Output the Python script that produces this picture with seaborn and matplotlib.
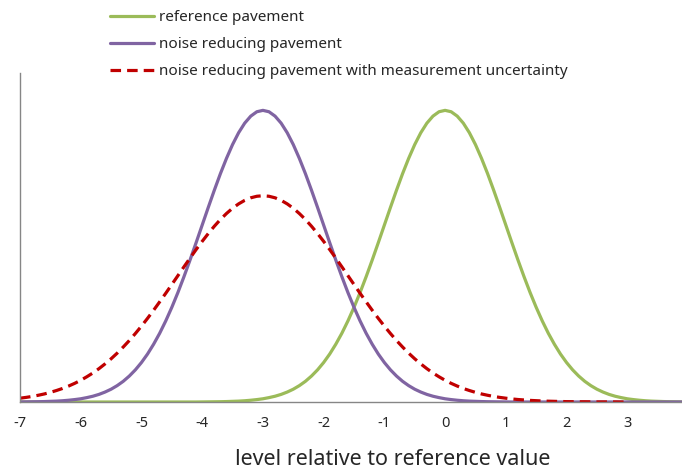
import matplotlib
matplotlib.use("Agg")
import matplotlib.pyplot as plt
import pandas as pd
import seaborn as sns

# x positions (level relative to reference value), step 0.1
x_full = [round(-7 + 0.1 * i, 1) for i in range(111)]   # -7 .. 4
x_red = [round(-7 + 0.1 * i, 1) for i in range(101)]    # -7 .. 3

# reference pavement (peak at 0)
reference = [0.0] * 30 + [
    0.0001, 0.0002, 0.0003, 0.0004, 0.0006, 0.0009, 0.0012, 0.0017, 0.0024, 0.0033,
    0.0044, 0.0060, 0.0079, 0.0104, 0.0136, 0.0175, 0.0224, 0.0283, 0.0355, 0.0440,
    0.0540, 0.0656, 0.0790, 0.0940, 0.1109, 0.1295, 0.1497, 0.1714, 0.1942, 0.2179,
    0.2420, 0.2661, 0.2897, 0.3123, 0.3332, 0.3521, 0.3683, 0.3814, 0.3910, 0.3970,
    0.3989,
    0.3970, 0.3910, 0.3814, 0.3683, 0.3521, 0.3332, 0.3123, 0.2897, 0.2661, 0.2420,
    0.2179, 0.1942, 0.1714, 0.1497, 0.1295, 0.1109, 0.0940, 0.0790, 0.0656, 0.0540,
    0.0440, 0.0355, 0.0283, 0.0224, 0.0175, 0.0136, 0.0104, 0.0079, 0.0060, 0.0044,
    0.0033, 0.0024, 0.0017, 0.0012, 0.0009, 0.0006, 0.0004, 0.0003, 0.0002, 0.0001,
]

# noise reducing pavement (peak at -3)
noise_reducing = [
    0.0001, 0.0002, 0.0003, 0.0004, 0.0006, 0.0009, 0.0012, 0.0017, 0.0024, 0.0033,
    0.0044, 0.0060, 0.0079, 0.0104, 0.0136, 0.0175, 0.0224, 0.0283, 0.0355, 0.0440,
    0.0540, 0.0656, 0.0790, 0.0940, 0.1109, 0.1295, 0.1497, 0.1714, 0.1942, 0.2179,
    0.2420, 0.2661, 0.2897, 0.3123, 0.3332, 0.3521, 0.3683, 0.3814, 0.3910, 0.3970,
    0.3989,
    0.3970, 0.3910, 0.3814, 0.3683, 0.3521, 0.3332, 0.3123, 0.2897, 0.2661, 0.2420,
    0.2179, 0.1942, 0.1714, 0.1497, 0.1295, 0.1109, 0.0940, 0.0790, 0.0656, 0.0540,
    0.0440, 0.0355, 0.0283, 0.0224, 0.0175, 0.0136, 0.0104, 0.0079, 0.0060, 0.0044,
    0.0033, 0.0024, 0.0017, 0.0012, 0.0009, 0.0006, 0.0004, 0.0003, 0.0002, 0.0001,
] + [0.0] * 30

# noise reducing pavement with measurement uncertainty (wider, lower)
with_uncertainty = [
    0.0052, 0.0063, 0.0076, 0.0092, 0.0110, 0.0132, 0.0157, 0.0185, 0.0218, 0.0255,
    0.0297, 0.0345, 0.0397, 0.0456, 0.0521, 0.0591, 0.0668, 0.0752, 0.0841, 0.0937,
    0.1038, 0.1144, 0.1255, 0.1370, 0.1487, 0.1607, 0.1728, 0.1849, 0.1968, 0.2085,
    0.2197, 0.2304, 0.2404, 0.2496, 0.2578, 0.2650, 0.2710, 0.2758, 0.2793, 0.2814,
    0.2821,
    0.2814, 0.2793, 0.2758, 0.2710, 0.2650, 0.2578, 0.2496, 0.2404, 0.2304, 0.2197,
    0.2085, 0.1968, 0.1849, 0.1728, 0.1607, 0.1487, 0.1370, 0.1255, 0.1144, 0.1038,
    0.0937, 0.0841, 0.0752, 0.0668, 0.0591, 0.0521, 0.0456, 0.0397, 0.0345, 0.0297,
    0.0255, 0.0218, 0.0185, 0.0157, 0.0132, 0.0110, 0.0092, 0.0076, 0.0063, 0.0052,
    0.0042, 0.0034, 0.0028, 0.0022, 0.0018, 0.0014, 0.0011, 0.0009, 0.0007, 0.0005,
    0.0004, 0.0003, 0.0003, 0.0002, 0.0001, 0.0001, 0.0001, 0.0001, 0.0000, 0.0000,
]

x_ticks = list(range(-7, 5))

sns.set_style("white")
plt.rcParams["font.family"] = ["Noto Sans", "DejaVu Sans"]

fig = plt.figure(figsize=(6.82, 4.73), dpi=100)
ax = fig.add_axes([20 / 682, 71 / 473, 668 / 682, 329 / 473])

df_ref = pd.DataFrame({"x": x_full, "y": reference})
df_nr = pd.DataFrame({"x": x_full, "y": noise_reducing})
df_unc = pd.DataFrame({"x": x_red, "y": with_uncertainty})

sns.lineplot(data=df_ref, x="x", y="y", ax=ax, color="#9BBB59", lw=2.3,
             label="reference pavement")
sns.lineplot(data=df_nr, x="x", y="y", ax=ax, color="#8064A2", lw=2.3,
             label="noise reducing pavement")
sns.lineplot(data=df_unc, x="x", y="y", ax=ax, color="#C00000", lw=2.3,
             linestyle=(0, (3.3, 1.9)),
             label="noise reducing pavement with measurement uncertainty")

ax.set_xlim(-7, 4)
ax.set_ylim(0, 0.45)
ax.set_xticks(x_ticks)
ax.set_xticklabels([str(t) for t in x_ticks], fontsize=10.5)
ax.set_yticks([0.05 * i for i in range(10)])
ax.set_yticklabels([])
ax.set_ylabel("")
ax.set_xlabel("level relative to reference value", fontsize=15.5)
ax.xaxis.set_label_coords(0.558, -0.142)

for side in ["top", "right"]:
    ax.spines[side].set_visible(False)
for side in ["left", "bottom"]:
    ax.spines[side].set_color("#868686")
    ax.spines[side].set_linewidth(1)
ax.tick_params(axis="both", direction="out", length=4, width=1, color="#868686")
ax.tick_params(axis="x", pad=6)

ax.get_legend().remove()
handles, labels = ax.get_legend_handles_labels()
fig.legend(handles, labels, loc="upper left", bbox_to_anchor=(110 / 682, 1 - 10 / 473),
           frameon=False, fontsize=11, handlelength=2.9, handletextpad=0.33,
           labelspacing=0.8, borderpad=0, borderaxespad=0)

fig.savefig("out.png", dpi=100)
